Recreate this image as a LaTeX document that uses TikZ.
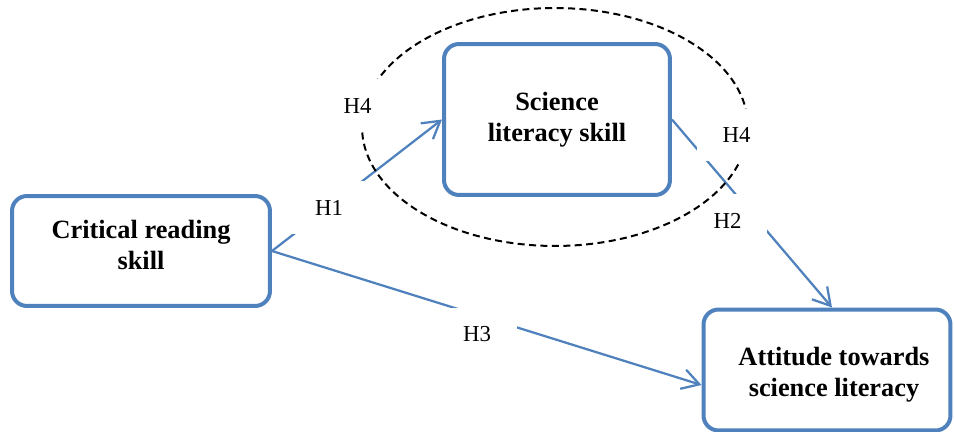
\documentclass[tikz,border=0pt]{standalone}
\usepackage{fontspec}
\setmainfont{Liberation Serif}
\usetikzlibrary{arrows.meta}
\definecolor{boxblue}{HTML}{4F81BD}
\newcommand\liftbox[3]{\hspace*{#1}\raisebox{#2}[\height][\depth]{\begin{tabular}{@{}c@{}}#3\end{tabular}}}

\begin{document}
\begin{tikzpicture}[x=0.02cm, y=-0.02cm, part/.style={
        rectangle,
        rounded corners=0.3cm,
        draw=boxblue,
        line width=0.08cm,
        text=black,
        align=center,
        font=\fontsize{15}{17.5}\selectfont\bfseries
    }, hyp/.style={
        rectangle,
        fill=white,
        minimum width=1.6cm,
        minimum height=1.06cm,
        font=\fontsize{13}{15}\selectfont
    }, arrow/.style={
        draw=boxblue, line width=0.045cm, -{Straight Barb[length=0.34cm, width=0.4cm]}
    }, ring/.style={
        draw=black, line width=0.04cm, dash pattern=on 4pt off 2.5pt
    }]
    \useasboundingbox (0,0) rectangle (954,432);
    \node (crit) [part, minimum width=5.16cm, minimum height=2.2cm] at (141,251) {\liftbox{0cm}{0.06cm}{Critical reading\\skill}};
    \node (sci) [part, minimum width=4.52cm, minimum height=3.02cm] at (557,119.5) {Science\\literacy skill};
    \node (att) [part, minimum width=4.94cm, minimum height=2.42cm] at (827,370) {\liftbox{0.28cm}{-0.1cm}{Attitude towards\\science literacy}};
    \draw [arrow] (crit.east) -- (sci.west);
    \draw [arrow] (crit.east) -- ([yshift=-0.3cm]att.west);
    \draw [arrow] (sci.east) -- ([xshift=0.1cm]att.north);
    \node (h1) [hyp] at (329,207.5) {H1};
    \node (h2) [hyp] at (727.5,220.5) {H2};
    \node (h3) [hyp] at (477,334.5) {H3};
    \draw [ring] (555,127) ellipse [x radius=3.86cm, y radius=2.38cm];
    \node (h4a) [hyp] at (357.5,105.5) {H4};
    \node (h4b) [hyp] at (736.5,135) {H4};
\end{tikzpicture}
\end{document}
